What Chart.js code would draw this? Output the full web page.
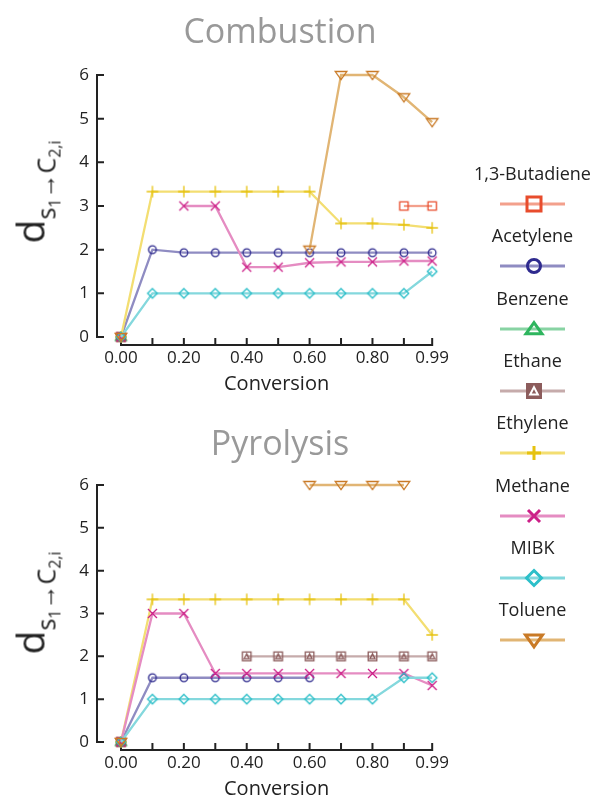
<!DOCTYPE html>
<html>
<head>
<meta charset="utf-8">
<script src="https://cdn.jsdelivr.net/npm/chart.js@4.4.1/dist/chart.umd.min.js"></script>
<style>
    body { margin: 0; width: 593px; height: 805px; position: relative; background: #fff; overflow: hidden;
           font-family: "Open Sans", sans-serif; color: #222; }
    canvas { position: absolute; left: 0; }
    #combustion { top: 0; }
    #pyrolysis { top: 410px; }
    .title { position: absolute; left: 280px; transform: translateX(-50%); font-size: 34px; line-height: 1;
             color: #999; white-space: nowrap; }
    .ylab { position: absolute; transform: translate(-50%, -50%) rotate(-90deg); font-size: 39px;
            white-space: nowrap; line-height: 1; }
    .ylab .sub { font-size: 25px; position: relative; top: 11px; }
    .ylab .sub2 { font-size: 16px; position: relative; top: 5px; }
    .leg-label { position: absolute; left: 450px; width: 165px; text-align: center; font-size: 18px; line-height: 22px; }
    .leg-mark { position: absolute; left: 498px; }
</style>
</head>
<body>
<canvas id="combustion" width="460" height="400"></canvas>
<canvas id="pyrolysis" width="460" height="395"></canvas>
<div class="title" style="top:13px">Combustion</div>
<div class="title" style="top:425px">Pyrolysis</div>
<div class="ylab" style="left:29px; top:192px">d<span class="sub">s<span class="sub2">1</span>→C<span class="sub2">2,i</span></span></div>
<div class="ylab" style="left:29px; top:603px">d<span class="sub">s<span class="sub2">1</span>→C<span class="sub2">2,i</span></span></div>
<div id="legend"></div>
<script>
const conversions = [0, 0.1, 0.2, 0.3, 0.4, 0.5, 0.6, 0.7, 0.8, 0.9, 0.99];
const xTickLabels = ["0.00", "", "0.20", "", "0.40", "", "0.60", "", "0.80", "", "0.99"];
const yTicks = [0, 1, 2, 3, 4, 5, 6];
const species = ["1,3-Butadiene", "Acetylene", "Benzene", "Ethane", "Ethylene", "Methane", "MIBK", "Toluene"];

// Combustion
const butadieneComb = [0, null, null, null, null, null, null, null, null, 3, 3];
const acetyleneComb = [0, 2.0, 1.93, 1.93, 1.93, 1.93, 1.93, 1.93, 1.93, 1.93, 1.93];
const benzeneComb = [0, null, null, null, null, null, null, null, null, null, null];
const ethaneComb = [0, null, null, null, null, null, null, null, null, null, null];
const ethyleneComb = [0, 3.33, 3.33, 3.33, 3.33, 3.33, 3.33, 2.6, 2.6, 2.57, 2.5];
const methaneComb = [0, null, 3, 3, 1.6, 1.6, 1.7, 1.72, 1.72, 1.74, 1.74];
const mibkComb = [0, 1, 1, 1, 1, 1, 1, 1, 1, 1, 1.5];
const tolueneComb = [0, null, null, null, null, null, 2, 6, 6, 5.49, 4.92];

// Pyrolysis
const butadienePyro = [0, null, null, null, null, null, null, null, null, null, null];
const acetylenePyro = [0, 1.5, 1.5, 1.5, 1.5, 1.5, 1.5, null, null, null, null];
const benzenePyro = [0, null, null, null, null, null, null, null, null, null, null];
const ethanePyro = [0, null, null, null, 2, 2, 2, 2, 2, 2, 2];
const ethylenePyro = [0, 3.33, 3.33, 3.33, 3.33, 3.33, 3.33, 3.33, 3.33, 3.33, 2.5];
const methanePyro = [0, 3, 3, 1.6, 1.6, 1.6, 1.6, 1.6, 1.6, 1.6, 1.32];
const mibkPyro = [0, 1, 1, 1, 1, 1, 1, 1, 1, 1.5, 1.5];
const toluenePyro = [0, null, null, null, null, null, 6, 6, 6, 6, null];

// marker colour, line colour, marker style
const looks = [
    { mark: "#e84c2c", line: "#f3a08c", style: "rect", r: 4.2, lr: 7 },
    { mark: "#2e2a8e", line: "#8f8cc2", style: "circle", r: 3.8, lr: 6.5 },
    { mark: "#2eb55e", line: "#88d3a3", style: "triangle", r: 5.5, lr: 8 },
    { mark: "#8c5c5c", line: "#c6abab", style: "ethane", r: 4.3, lr: 7 },
    { mark: "#e6c20f", line: "#f3de72", style: "cross", r: 5.8, lr: 7 },
    { mark: "#cc1f88", line: "#e58cc2", style: "crossRot", r: 4.5, lr: 6 },
    { mark: "#2cbfc9", line: "#84d8dd", style: "rectRot", r: 4.8, lr: 7.5 },
    { mark: "#c97a26", line: "#e1b574", style: "triangleDown", r: 5.8, lr: 8.5 },
];

function drawMarker(ctx, style, x, y, r, color, lw) {
    ctx.save();
    ctx.strokeStyle = color;
    ctx.lineWidth = lw;
    ctx.beginPath();
    if (style === "rect") {
        ctx.rect(x - r, y - r, 2 * r, 2 * r);
    } else if (style === "circle") {
        ctx.arc(x, y, r, 0, Math.PI * 2);
    } else if (style === "triangle") {
        ctx.moveTo(x, y - 0.8 * r);
        ctx.lineTo(x + r, y + 0.6 * r);
        ctx.lineTo(x - r, y + 0.6 * r);
        ctx.closePath();
    } else if (style === "triangleDown") {
        ctx.moveTo(x, y + 0.8 * r);
        ctx.lineTo(x + r, y - 0.6 * r);
        ctx.lineTo(x - r, y - 0.6 * r);
        ctx.closePath();
    } else if (style === "ethane") {
        ctx.rect(x - r, y - r, 2 * r, 2 * r);
        ctx.moveTo(x, y - 0.6 * r);
        ctx.lineTo(x + 0.6 * r, y + 0.55 * r);
        ctx.lineTo(x - 0.6 * r, y + 0.55 * r);
        ctx.closePath();
    } else if (style === "cross") {
        ctx.moveTo(x - r, y); ctx.lineTo(x + r, y);
        ctx.moveTo(x, y - r); ctx.lineTo(x, y + r);
    } else if (style === "crossRot") {
        ctx.moveTo(x - r, y - r); ctx.lineTo(x + r, y + r);
        ctx.moveTo(x - r, y + r); ctx.lineTo(x + r, y - r);
    } else if (style === "rectRot") {
        ctx.moveTo(x, y - r); ctx.lineTo(x + r, y);
        ctx.lineTo(x, y + r); ctx.lineTo(x - r, y);
        ctx.closePath();
    }
    ctx.stroke();
    ctx.restore();
}

// thick legend version of the ethane marker: solid square, light triangle
function drawEthaneLegend(ctx, x, y, r, color) {
    ctx.save();
    ctx.fillStyle = color;
    ctx.fillRect(x - r - 1, y - r - 1, 2 * r + 2, 2 * r + 2);
    ctx.strokeStyle = "#fff";
    ctx.lineWidth = 2;
    ctx.beginPath();
    ctx.moveTo(x, y - 0.55 * r);
    ctx.lineTo(x + 0.55 * r, y + 0.5 * r);
    ctx.lineTo(x - 0.55 * r, y + 0.5 * r);
    ctx.closePath();
    ctx.stroke();
    ctx.restore();
}

function makeMarker(look) {
    const c = document.createElement("canvas");
    const s = Math.ceil(2 * look.r + 4);
    c.width = s; c.height = s;
    drawMarker(c.getContext("2d"), look.style, s / 2, s / 2, look.r, look.mark, 1.3);
    return c;
}

const markers = looks.map(makeMarker);

function buildDatasets(series) {
    return series.map(function (vals, i) {
        return {
            label: species[i],
            data: conversions.map(function (c, j) { return { x: c, y: vals[j] }; }),
            borderColor: looks[i].line,
            backgroundColor: looks[i].line,
            borderWidth: 2.3,
            pointStyle: markers[i],
            pointRadius: 5,
            spanGaps: false,
            clip: false,
            order: -i,
        };
    });
}

// axes are drawn detached from the plot, like a despined plot
const offsetAxes = {
    id: "offsetAxes",
    beforeDatasetsDraw: function (chart) {
        const ctx = chart.ctx;
        const xs = chart.scales.x, ys = chart.scales.y;
        const ax = chart.chartArea.left - 24;
        const ay = chart.chartArea.bottom + 8;
        ctx.save();
        ctx.strokeStyle = "#222";
        ctx.lineWidth = 2;
        ctx.beginPath();
        ctx.moveTo(ax, ys.getPixelForValue(yTicks[0]) + 1);
        ctx.lineTo(ax, ys.getPixelForValue(yTicks[yTicks.length - 1]) - 1);
        yTicks.forEach(function (v) {
            const py = ys.getPixelForValue(v);
            ctx.moveTo(ax, py);
            ctx.lineTo(ax + 7, py);
        });
        ctx.moveTo(xs.getPixelForValue(conversions[0]) - 1, ay);
        ctx.lineTo(xs.getPixelForValue(conversions[conversions.length - 1]) + 1, ay);
        conversions.forEach(function (v) {
            const px = xs.getPixelForValue(v);
            ctx.moveTo(px, ay);
            ctx.lineTo(px, ay - 7);
        });
        ctx.stroke();
        ctx.restore();
    },
};

function makeChart(id, series) {
    const ctx = document.getElementById(id).getContext("2d");
    return new Chart(ctx, {
        type: "line",
        data: { datasets: buildDatasets(series) },
        plugins: [offsetAxes],
        options: {
            responsive: false,
            animation: false,
            layout: { autoPadding: false, padding: { left: 0, right: 26, top: 75, bottom: 0 } },
            plugins: {
                legend: { display: false },
                tooltip: { enabled: false },
            },
            scales: {
                x: {
                    type: "linear",
                    min: 0,
                    max: 0.99,
                    grid: { display: false, drawTicks: false },
                    border: { display: false },
                    afterBuildTicks: function (scale) {
                        scale.ticks = conversions.map(function (v) { return { value: v }; });
                    },
                    afterFit: function (scale) { scale.height = 63; },
                    ticks: {
                        color: "#222",
                        font: { size: 17 },
                        padding: 11,
                        maxRotation: 0,
                        autoSkip: false,
                        callback: function (value, index) { return xTickLabels[index]; },
                    },
                    title: {
                        display: true,
                        text: "Conversion",
                        color: "#222",
                        font: { size: 20 },
                        padding: { top: 0, bottom: 4 },
                    },
                },
                y: {
                    min: 0,
                    max: 6,
                    grid: { display: false, drawTicks: false },
                    border: { display: false },
                    afterFit: function (scale) { scale.width = 121; },
                    ticks: { stepSize: 1, color: "#222", font: { size: 17 }, padding: 32 },
                },
            },
        },
    });
}

Chart.defaults.font.family = "'Open Sans', sans-serif";

makeChart("combustion", [butadieneComb, acetyleneComb, benzeneComb, ethaneComb,
    ethyleneComb, methaneComb, mibkComb, tolueneComb]);
makeChart("pyrolysis", [butadienePyro, acetylenePyro, benzenePyro, ethanePyro,
    ethylenePyro, methanePyro, mibkPyro, toluenePyro]);

// legend: name above a short line with the marker
const legend = document.getElementById("legend");
species.forEach(function (name, i) {
    const textY = 173 + i * 62.3;
    const label = document.createElement("div");
    label.className = "leg-label";
    label.style.top = (textY - 11) + "px";
    label.textContent = name;
    legend.appendChild(label);

    const c = document.createElement("canvas");
    c.className = "leg-mark";
    c.width = 70; c.height = 24;
    c.style.top = (textY + 31 - 12) + "px";
    const g = c.getContext("2d");
    g.strokeStyle = looks[i].line;
    g.lineWidth = 3;
    g.beginPath();
    g.moveTo(2, 12); g.lineTo(67, 12);
    g.stroke();
    if (looks[i].style === "ethane") {
        drawEthaneLegend(g, 36, 12, looks[i].lr, looks[i].mark);
    } else {
        drawMarker(g, looks[i].style, 36, 12, looks[i].lr, looks[i].mark, 3);
    }
    legend.appendChild(c);
});
</script>
</body>
</html>
